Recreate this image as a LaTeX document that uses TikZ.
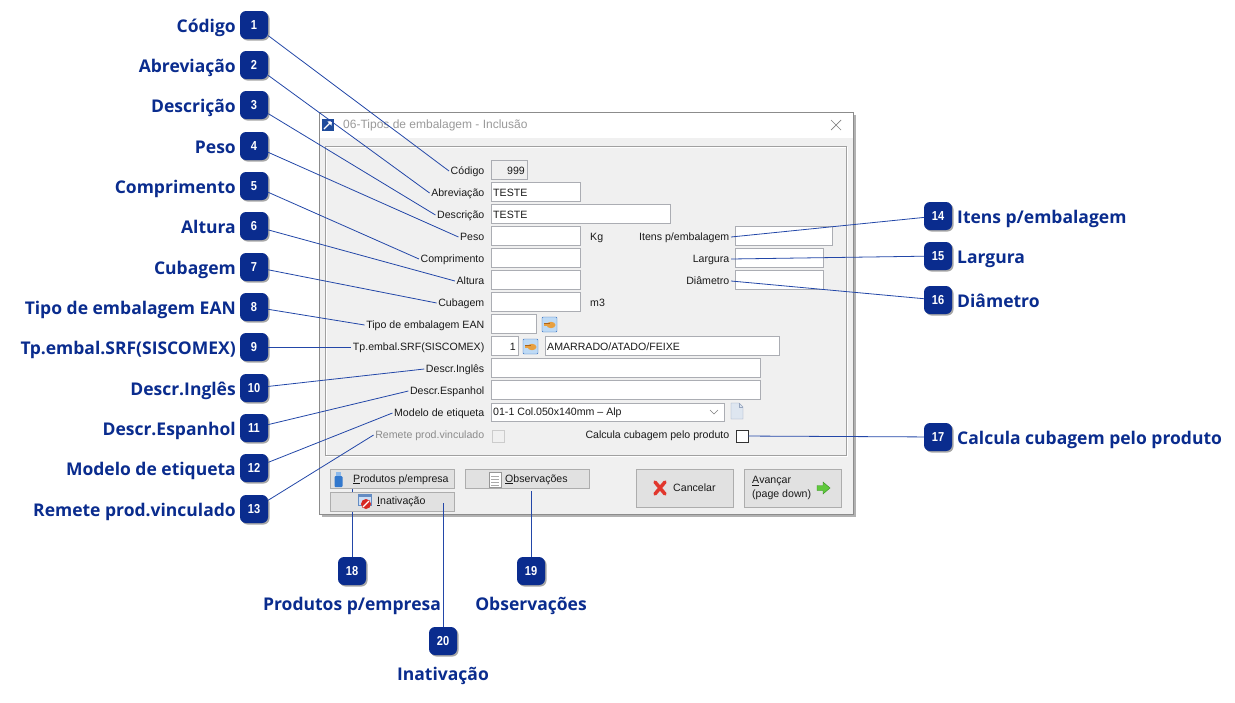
\documentclass[tikz,border=0pt]{standalone}
\usepackage{fontspec}
\setmainfont{Liberation Sans}
\newfontfamily\lblfont{Open Sans}
\usetikzlibrary{shadows}
\definecolor{navy}{HTML}{0A2C8E}
\definecolor{lineblue}{HTML}{2347A8}
\definecolor{winbg}{HTML}{F0F0F0}
\definecolor{winborder}{HTML}{8C8C8C}
\definecolor{groupline}{HTML}{A0A0A0}
\definecolor{fieldborder}{HTML}{ABADB3}
\definecolor{btnfill}{HTML}{E1E1E1}
\definecolor{btnborder}{HTML}{ADADAD}
\definecolor{disabledtxt}{HTML}{8C8C8C}
\definecolor{disabledbox}{HTML}{CCCCCC}
\definecolor{titletxt}{HTML}{9A9A9A}
\definecolor{titleicon}{HTML}{1E4B9B}
\definecolor{lkfill}{HTML}{BEDAF5}
\definecolor{lkdraw}{HTML}{326EBE}
\definecolor{handfill}{HTML}{E8A040}
\definecolor{handdraw}{HTML}{AA641E}
\definecolor{docfill}{HTML}{DEE6F0}
\definecolor{docdraw}{HTML}{96A5BE}
\definecolor{bottlecap}{HTML}{8CB9EB}
\definecolor{bottle}{HTML}{3278CD}
\definecolor{padline}{HTML}{AAAAAA}
\definecolor{paddraw}{HTML}{969696}
\definecolor{xred}{HTML}{E1372D}
\definecolor{arrgreen}{HTML}{5FC83C}
\definecolor{arrgreendk}{HTML}{328C1E}
\definecolor{winicfill}{HTML}{CDDEF5}
\definecolor{winicdraw}{HTML}{648CC3}
\definecolor{nored}{HTML}{D72823}
\definecolor{cbdraw}{HTML}{333333}
\definecolor{uitext}{HTML}{1A1A1A}
\tikzset{
  badge/.style={rounded corners=6pt, fill=navy, minimum width=28pt, minimum height=28pt, inner sep=0pt,
    text=white, font=\fontsize{13}{13}\selectfont\bfseries,
    drop shadow={shadow xshift=1.5pt, shadow yshift=-1.5pt, opacity=0.35, fill=black}},
  callout/.style={text=navy, font=\lblfont\fontsize{17.5}{18}\selectfont\bfseries, inner sep=0pt},
  conn/.style={draw=lineblue, line width=0.8pt},
  flabel/.style={anchor=east, inner sep=1.5pt, text height=7.5pt, text depth=1.5pt, text=uitext, font=\fontsize{10.6}{11}\selectfont},
  ftext/.style={anchor=west, inner sep=0pt, text height=7.5pt, text depth=1.5pt, text=uitext, font=\fontsize{10.6}{11}\selectfont},
  btn/.style={draw=btnborder, fill=btnfill},
}
\newcommand\fieldrect[4][white]{\draw[draw=fieldborder, fill=#1] (#2,#4-9.5) rectangle (#3,#4+9.5);}
\newcommand\lookupicon[1]{%
  \begin{scope}[shift={#1}]
    \draw[fill=lkfill, draw=lkdraw, rounded corners=1pt] (0,0) rectangle (15,15);
    \fill[handfill] (9,8) ellipse (4.5pt and 3.2pt);
    \fill[handfill] (2,6) rectangle (8,8.5);
    \draw[handdraw, line width=0.4pt] (2,6) -- (8,6);
  \end{scope}}
\newcommand\badgenum[1]{\scalebox{0.85}[1]{#1}}
\begin{document}
\begin{tikzpicture}[x=1pt,y=-1pt]
\useasboundingbox (0,0) rectangle (1235,702);
\fill[white] (0,0) rectangle (1235,702);

% ---------------- window ----------------
\draw[draw=winborder, fill=winbg,
  drop shadow={shadow xshift=2.5pt, shadow yshift=-2.5pt, opacity=0.3, fill=black}] (319,112) rectangle (853,514);
\fill[white] (319.5,112.5) rectangle (852.5,138);
% title icon
\fill[titleicon] (322,119) rectangle (334,131);
\draw[white, line width=1.2pt] (324,129) -- (331,122);
\fill[white] (332,121) -- (327.5,121.5) -- (331.5,125.5) -- cycle;
\node[anchor=west, inner sep=0pt, text=titletxt, font=\fontsize{12}{12}\selectfont] (title) at (343,125) {06-Tipos de embalagem - Inclusão};
\draw[gray, line width=0.7pt] (831,120) -- (841,130) (841,120) -- (831,130);
% group box
\draw[white] (326,147) rectangle (847,456);
\draw[groupline] (325,146) rectangle (846,455);

% ---------------- fields ----------------
\fieldrect[winbg]{491}{527}{170}
\node[anchor=east, inner sep=0pt, text=uitext, font=\fontsize{10.6}{11}\selectfont] at (525,171) {999};
\node[flabel] (l1) at (486,171) {Código};

\fieldrect{491}{580}{192}
\node[ftext] at (493,193) {TESTE};
\node[flabel] (l2) at (486,193) {Abreviação};

\fieldrect{491}{670}{214}
\node[ftext] at (493,215) {TESTE};
\node[flabel] (l3) at (486,215) {Descrição};

\fieldrect{491}{580}{236}
\node[ftext] at (590,237) {Kg};
\node[flabel] (l4) at (486,237) {Peso};

\fieldrect{491}{580}{258}
\node[flabel] (l5) at (486,259) {Comprimento};

\fieldrect{491}{580}{280}
\node[flabel] (l6) at (486,281) {Altura};

\fieldrect{491}{580}{302}
\node[ftext] at (590,303) {m3};
\node[flabel] (l7) at (486,303) {Cubagem};

\fieldrect{491}{536}{324}
\lookupicon{(542,317)}
\node[flabel] (l8) at (486,325) {Tipo de embalagem EAN};

\fieldrect{491}{518}{346}
\node[anchor=east, inner sep=0pt, text=uitext, font=\fontsize{10.6}{11}\selectfont] at (516,347) {1};
\lookupicon{(523,339)}
\fieldrect{545}{779}{346}
\node[ftext] at (547,347) {AMARRADO/ATADO/FEIXE};
\node[flabel] (l9) at (486,347) {Tp.embal.SRF(SISCOMEX)};

\fieldrect{491}{760}{368}
\node[flabel] (l10) at (486,369) {Descr.Inglês};

\fieldrect{491}{760}{390}
\node[flabel] (l11) at (486,391) {Descr.Espanhol};

\draw[draw=fieldborder, fill=white] (491,403) rectangle (724,421);
\node[ftext] at (493,412) {01-1 Col.050x140mm – Alp};
\draw[gray, line width=0.6pt] (710,410) -- (714,414) -- (718,410);
\begin{scope}[shift={(731,403)}]
  \draw[fill=docfill, draw=docdraw] (0,0) -- (8,0) -- (12,4) -- (12,16) -- (0,16) -- cycle;
  \draw[draw=docdraw] (8,0) -- (8,4) -- (12,4);
\end{scope}
\node[flabel] (l12) at (486,413) {Modelo de etiqueta};

\draw[draw=disabledbox, fill=winbg] (492,430) rectangle (504,442);
\node[flabel, text=disabledtxt] (l13) at (486,435) {Remete prod.vinculado};

\node[flabel] (l17) at (731,435) {Calcula cubagem pelo produto};
\node[draw=cbdraw, fill=white, minimum width=12pt, minimum height=12pt, inner sep=0pt] (cb17) at (742,436) {};

% right column
\fieldrect{735}{832}{236}
\node[flabel] (l14) at (731,237) {Itens p/embalagem};
\fieldrect{735}{823}{258}
\node[flabel] (l15) at (731,259) {Largura};
\fieldrect{735}{823}{280}
\node[flabel] (l16) at (731,281) {Diâmetro};

% ---------------- buttons ----------------
\draw[btn] (330,469) rectangle (454,488);
\fill[bottlecap] (336,472) rectangle (341,476);
\fill[bottle, rounded corners=1pt] (334.5,476) rectangle (342.5,487);
\node[ftext] (bprod) at (353,479) {\underline{P}rodutos p/empresa};

\draw[btn] (465,469) rectangle (589,488);
\draw[fill=white, draw=paddraw] (489,472) rectangle (501,487);
\foreach \yy in {476,479,482,485} \draw[padline] (491,\yy) -- (499,\yy);
\node[ftext] (bobs) at (505,479) {\underline{O}bservações};

\draw[btn] (636,469) rectangle (733,507);
\draw[xred, line width=3.5pt, line cap=round] (655,482) -- (665,494) (665,482) -- (655,494);
\node[ftext] (bcanc) at (673,488) {Cancelar};

\draw[btn] (744,469) rectangle (841,507);
\node[anchor=west, inner sep=0pt, align=left, text=uitext, font=\fontsize{10.6}{13.5}\selectfont] (bavan) at (752,488) {\underline{A}vançar\\(page down)};
\draw[fill=arrgreen, draw=arrgreendk] (817,485.5) -- (823,485.5) -- (823,482) -- (830,488) -- (823,494) -- (823,490.5) -- (817,490.5) -- cycle;

% connector 18 runs behind the Inativação button
\coordinate (c18) at (352,489);
\node[badge] (b18) at (352,571) {\badgenum{18}};
\draw[conn] (c18) -- (b18);

\draw[btn] (330,492) rectangle (454,511);
\draw[fill=winicfill, draw=winicdraw] (358,494) rectangle (371,505);
\fill[winicdraw] (358,494) rectangle (371,497);
\fill[nored] (366,504) circle (5pt);
\draw[white, line width=1.3pt] (363,507) -- (369,501);
\node[ftext] (binat) at (377,501) {\underline{I}nativação};

% ---------------- callout badges ----------------
\node[badge] (b1) at (254,25) {\badgenum{1}};
\node[badge] (b2) at (254,65) {\badgenum{2}};
\node[badge] (b3) at (254,105) {\badgenum{3}};
\node[badge] (b4) at (254,146) {\badgenum{4}};
\node[badge] (b5) at (254,186) {\badgenum{5}};
\node[badge] (b6) at (254,226) {\badgenum{6}};
\node[badge] (b7) at (254,267) {\badgenum{7}};
\node[badge] (b8) at (254,307) {\badgenum{8}};
\node[badge] (b9) at (254,347) {\badgenum{9}};
\node[badge] (b10) at (254,388) {\badgenum{10}};
\node[badge] (b11) at (254,428) {\badgenum{11}};
\node[badge] (b12) at (254,468) {\badgenum{12}};
\node[badge] (b13) at (254,509) {\badgenum{13}};
\node[badge] (b14) at (938,216) {\badgenum{14}};
\node[badge] (b15) at (938,256) {\badgenum{15}};
\node[badge] (b16) at (938,300) {\badgenum{16}};
\node[badge] (b17) at (938,437) {\badgenum{17}};
\node[badge] (b19) at (531,571) {\badgenum{19}};
\node[badge] (b20) at (443,641) {\badgenum{20}};

\node[callout, anchor=base east] (t1) at (236,32) {Código};
\node[callout, anchor=base east] (t2) at (236,72) {Abreviação};
\node[callout, anchor=base east] (t3) at (236,112) {Descrição};
\node[callout, anchor=base east] (t4) at (236,153) {Peso};
\node[callout, anchor=base east] (t5) at (236,193) {Comprimento};
\node[callout, anchor=base east] (t6) at (236,233) {Altura};
\node[callout, anchor=base east] (t7) at (236,274) {Cubagem};
\node[callout, anchor=base east] (t8) at (236,314) {Tipo de embalagem EAN};
\node[callout, anchor=base east] (t9) at (236,354) {Tp.embal.SRF(SISCOMEX)};
\node[callout, anchor=base east] (t10) at (236,395) {Descr.Inglês};
\node[callout, anchor=base east] (t11) at (236,435) {Descr.Espanhol};
\node[callout, anchor=base east] (t12) at (236,475) {Modelo de etiqueta};
\node[callout, anchor=base east] (t13) at (236,516) {Remete prod.vinculado};
\node[callout, anchor=base west] (t14) at (957,223) {Itens p/embalagem};
\node[callout, anchor=base west] (t15) at (957,263) {Largura};
\node[callout, anchor=base west] (t16) at (957,307) {Diâmetro};
\node[callout, anchor=base west] (t17) at (957,444) {Calcula cubagem pelo produto};
\node[callout, anchor=base] (t18) at (352,610) {Produtos p/empresa};
\node[callout, anchor=base] (t19) at (531,610) {Observações};
\node[callout, anchor=base] (t20) at (443,680) {Inativação};

% ---------------- connectors ----------------
\foreach \i in {1,...,13} \draw[conn] (b\i) -- (l\i.west);
\draw[conn] (l14.east) -- (b14);
\draw[conn] (l15.east) -- (b15);
\draw[conn] (l16.east) -- (b16);
\draw[conn] (cb17) -- (b17);
\coordinate (c19) at (531,491);
\draw[conn] (c19) -- (b19);
\coordinate (c20) at (443,503);
\draw[conn] (c20) -- (b20);
\end{tikzpicture}
\end{document}
